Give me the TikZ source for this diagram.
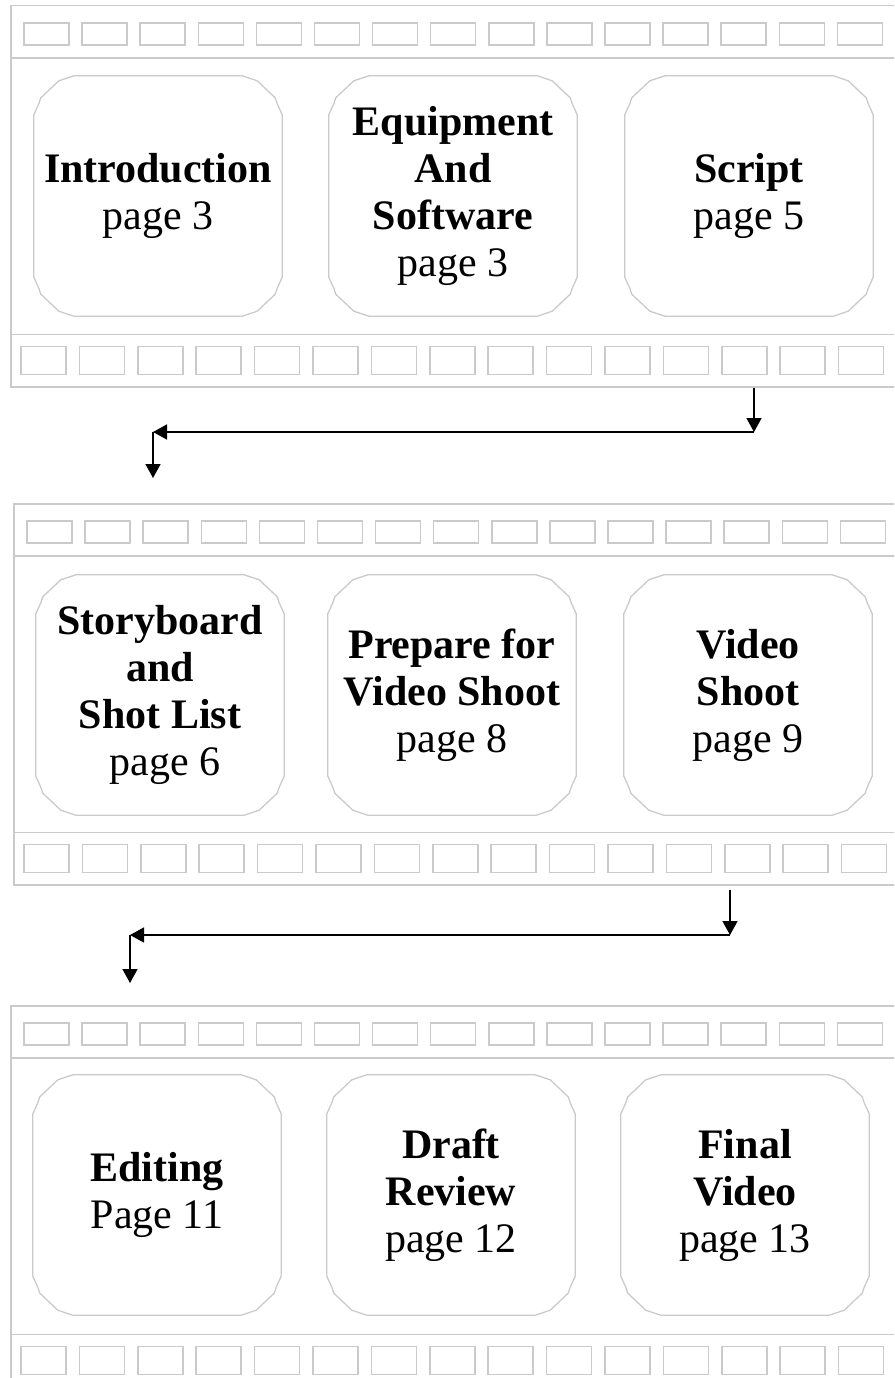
\documentclass[tikz,border=0pt]{standalone}
\usepackage{fontspec}
\setmainfont{Liberation Serif}
\usetikzlibrary{arrows.meta,positioning}
\definecolor{filmgray}{HTML}{CACACA}
\tikzset{
  filmstrip/.style={
    rectangle, draw=filmgray, line width=1.5pt, inner sep=0pt,
    anchor=north west, minimum width=895pt, minimum height=381pt},
  filmline/.style={draw=filmgray, line width=1.5pt},
  frameline/.style={draw=filmgray, line width=1.3pt, line join=round},
  filmframe/.style={
    rectangle, minimum width=248pt, minimum height=240pt, inner sep=0pt,
    align=center, font=\fontsize{42}{47}\selectfont},
  flowarrow/.style={
    -{Triangle[length=14pt,width=15pt]}, line width=1.5pt, color=black},
}
% cut-corner outline round a frame node
\newcommand{\frameoutline}[1]{%
  \draw[frameline]
    ([xshift=40pt]#1.north west) -- ([xshift=-40pt]#1.north east)
    -- ([xshift=-28pt,yshift=-4pt]#1.north east) -- ([xshift=-25pt,yshift=-5pt]#1.north east)
    -- ([xshift=-7pt,yshift=-22pt]#1.north east) -- ([xshift=-5pt,yshift=-28pt]#1.north east)
    -- ([yshift=-39pt]#1.north east) -- ([yshift=39pt]#1.south east)
    -- ([xshift=-5pt,yshift=28pt]#1.south east) -- ([xshift=-7pt,yshift=22pt]#1.south east)
    -- ([xshift=-25pt,yshift=5pt]#1.south east) -- ([xshift=-28pt,yshift=4pt]#1.south east)
    -- ([xshift=-40pt]#1.south east) -- ([xshift=40pt]#1.south west)
    -- ([xshift=28pt,yshift=4pt]#1.south west) -- ([xshift=25pt,yshift=5pt]#1.south west)
    -- ([xshift=7pt,yshift=22pt]#1.south west) -- ([xshift=5pt,yshift=28pt]#1.south west)
    -- ([yshift=39pt]#1.south west) -- ([yshift=-39pt]#1.north west)
    -- ([xshift=5pt,yshift=-28pt]#1.north west) -- ([xshift=7pt,yshift=-22pt]#1.north west)
    -- ([xshift=25pt,yshift=-5pt]#1.north west) -- ([xshift=28pt,yshift=-4pt]#1.north west)
    -- cycle;}

\begin{document}
\begin{tikzpicture}[x=1pt, y=-1pt]
  \useasboundingbox (0,0) rectangle (894,1378);
  \clip (0,0) rectangle (894,1378);
  % film strips
  \node[filmstrip] (s1) at (10,5) {};
  \node[filmstrip] (s2) at (13,503) {};
  \node[filmstrip] (s3) at (10,1005) {};
  \foreach \s in {s1,s2,s3}{
    \draw[filmline] ([yshift=-53pt]\s.north west) -- ([yshift=-53pt]\s.north east);
    \draw[filmline] ([yshift=53pt]\s.south west) -- ([yshift=53pt]\s.south east);
    \foreach \i in {0,...,14}{
      \draw[filmline] ([shift={(14+58.1*\i,18)}]\s.north west) rectangle ++(45,22);
      \draw[filmline] ([shift={(11+58.4*\i,-13)}]\s.south west) rectangle ++(45,-28);
    }
  }
  % frames
  \node[filmframe] (intro)  at (158,196) {\textbf{Introduction}\\page 3};
  \node[filmframe] (equip)  at (453,196) {\textbf{Equipment}\\\textbf{And}\\\textbf{Software}\\page 3};
  \node[filmframe] (script) at (749,196) {\textbf{Script}\\page 5};
  \node[filmframe] (story)  at (160,695) {\textbf{Storyboard}\\\textbf{and}\\\textbf{Shot List}\\\ page 6};
  \node[filmframe] (prep)   at (452,695) {\textbf{Prepare for}\\\textbf{Video Shoot}\\page 8};
  \node[filmframe] (shoot)  at (748,695) {\textbf{Video}\\\textbf{Shoot}\\page 9};
  \node[filmframe] (edit)   at (157,1195) {\textbf{Editing}\\Page 11};
  \node[filmframe] (draft)  at (451,1195) {\textbf{Draft}\\\textbf{Review}\\page 12};
  \node[filmframe] (final)  at (745,1195) {\textbf{Final}\\\textbf{Video}\\page 13};
  \foreach \f in {intro,equip,script,story,prep,shoot,edit,draft,final}
    \frameoutline{\f};
  % turn arrows
  \coordinate (k1) at (754,432);
  \coordinate (j1) at (153,432);
  \coordinate (e1) at (153,478);
  \coordinate (k2) at (730,935);
  \coordinate (j2) at (130,935);
  \coordinate (e2) at (130,983);
  \draw[flowarrow] (s1.south -| k1) -- (k1);
  \draw[flowarrow] (k1) -- (j1);
  \draw[flowarrow] (j1) -- (e1);
  \draw[flowarrow] ([yshift=-4pt]s2.south -| k2) -- (k2);
  \draw[flowarrow] (k2) -- (j2);
  \draw[flowarrow] (j2) -- (e2);
\end{tikzpicture}
\end{document}
